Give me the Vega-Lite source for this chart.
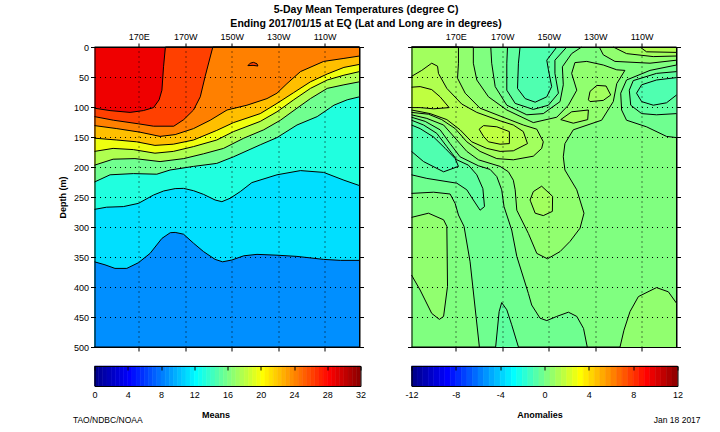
{"$schema":"https://vega.github.io/schema/vega-lite/v6.json","background":"white","padding":{"left":57.5,"top":4,"right":10,"bottom":5},"autosize":{"type":"pad"},
"title":{"text":["5-Day Mean Temperatures (degree C)","Ending 2017/01/15 at EQ (Lat and Long are in degrees)\u00a0\u00a0\u00a0\u00a0\u00a0"],"font":"Liberation Sans","fontSize":10.5,"fontWeight":"bold","lineHeight":14,"anchor":"middle","dx":-13.5,"color":"black","offset":3},
"config":{"view":{"stroke":null},"font":"Liberation Sans","axis":{"labelFont":"Liberation Sans","labelFontSize":9,"labelColor":"black","tickColor":"black","domainColor":"black","tickSize":4,"domainWidth":1,"tickWidth":1,"labelFlush":false,"labelOverlap":false,"titleFont":"Liberation Sans"}},
"columns":2,"spacing":{"row":19,"column":51},"bounds":"flush","resolve":{"scale":{"fill":"independent","stroke":"independent"}},
"datasets":{
"means":[
{"c":"m0","n":0,"lon":151,"depth":0,"t":28.5},{"c":"m0","n":1,"lon":265,"depth":0,"t":28.5},{"c":"m0","n":2,"lon":265,"depth":500,"t":28.5},{"c":"m0","n":3,"lon":151,"depth":500,"t":28.5},
{"c":"m1","n":0,"lon":151,"depth":102,"t":26},{"c":"m1","n":1,"lon":157.7,"depth":106,"t":26},{"c":"m1","n":2,"lon":166.3,"depth":109,"t":26},{"c":"m1","n":3,"lon":172,"depth":106,"t":26},{"c":"m1","n":4,"lon":176.4,"depth":101,"t":26},{"c":"m1","n":5,"lon":178.8,"depth":88,"t":26},{"c":"m1","n":6,"lon":180,"depth":72,"t":26},{"c":"m1","n":7,"lon":180.7,"depth":33,"t":26},{"c":"m1","n":8,"lon":181.5,"depth":0,"t":26},{"c":"m1","n":9,"lon":265,"depth":0,"t":26},{"c":"m1","n":10,"lon":265,"depth":500,"t":26},{"c":"m1","n":11,"lon":151,"depth":500,"t":26},
{"c":"m2","n":0,"lon":151,"depth":116,"t":24},{"c":"m2","n":1,"lon":159.1,"depth":122,"t":24},{"c":"m2","n":2,"lon":169.9,"depth":128,"t":24},{"c":"m2","n":3,"lon":176.4,"depth":132,"t":24},{"c":"m2","n":4,"lon":185.1,"depth":132,"t":24},{"c":"m2","n":5,"lon":189.4,"depth":121,"t":24},{"c":"m2","n":6,"lon":193.6,"depth":105,"t":24},{"c":"m2","n":7,"lon":196.5,"depth":83,"t":24},{"c":"m2","n":8,"lon":198.6,"depth":49,"t":24},{"c":"m2","n":9,"lon":201.9,"depth":0,"t":24},{"c":"m2","n":10,"lon":265,"depth":0,"t":24},{"c":"m2","n":11,"lon":265,"depth":500,"t":24},{"c":"m2","n":12,"lon":151,"depth":500,"t":24},
{"c":"m2b","n":0,"lon":217,"depth":31,"t":26},{"c":"m2b","n":1,"lon":218,"depth":27,"t":26},{"c":"m2b","n":2,"lon":219.4,"depth":25.6,"t":26},{"c":"m2b","n":3,"lon":220.9,"depth":28,"t":26},{"c":"m2b","n":4,"lon":221.3,"depth":31.7,"t":26},{"c":"m2b","n":5,"lon":219.2,"depth":30.6,"t":26},{"c":"m2b","n":6,"lon":217,"depth":31,"t":26},
{"c":"m3","n":0,"lon":151,"depth":131,"t":22},{"c":"m3","n":1,"lon":160.6,"depth":136,"t":22},{"c":"m3","n":2,"lon":170.6,"depth":142,"t":22},{"c":"m3","n":3,"lon":179.2,"depth":149,"t":22},{"c":"m3","n":4,"lon":185.7,"depth":146,"t":22},{"c":"m3","n":5,"lon":193.6,"depth":136,"t":22},{"c":"m3","n":6,"lon":200.8,"depth":122,"t":22},{"c":"m3","n":7,"lon":208,"depth":105,"t":22},{"c":"m3","n":8,"lon":216.6,"depth":97,"t":22},{"c":"m3","n":9,"lon":225.2,"depth":86,"t":22},{"c":"m3","n":10,"lon":229.5,"depth":77,"t":22},{"c":"m3","n":11,"lon":233.8,"depth":61,"t":22},{"c":"m3","n":12,"lon":239.6,"depth":41,"t":22},{"c":"m3","n":13,"lon":249.6,"depth":24,"t":22},{"c":"m3","n":14,"lon":258.3,"depth":19,"t":22},{"c":"m3","n":15,"lon":265,"depth":15,"t":22},{"c":"m3","n":16,"lon":265,"depth":500,"t":22},{"c":"m3","n":17,"lon":151,"depth":500,"t":22},
{"c":"m4","n":0,"lon":151,"depth":152,"t":19.5},{"c":"m4","n":1,"lon":160.6,"depth":155,"t":19.5},{"c":"m4","n":2,"lon":169.1,"depth":158,"t":19.5},{"c":"m4","n":3,"lon":177,"depth":164,"t":19.5},{"c":"m4","n":4,"lon":184.9,"depth":162,"t":19.5},{"c":"m4","n":5,"lon":193.6,"depth":155,"t":19.5},{"c":"m4","n":6,"lon":203.6,"depth":139,"t":19.5},{"c":"m4","n":7,"lon":210.8,"depth":126,"t":19.5},{"c":"m4","n":8,"lon":222.3,"depth":111,"t":19.5},{"c":"m4","n":9,"lon":229.5,"depth":94,"t":19.5},{"c":"m4","n":10,"lon":236.7,"depth":76,"t":19.5},{"c":"m4","n":11,"lon":243.9,"depth":58,"t":19.5},{"c":"m4","n":12,"lon":251.1,"depth":45,"t":19.5},{"c":"m4","n":13,"lon":258.3,"depth":34,"t":19.5},{"c":"m4","n":14,"lon":265,"depth":29,"t":19.5},{"c":"m4","n":15,"lon":265,"depth":500,"t":19.5},{"c":"m4","n":16,"lon":151,"depth":500,"t":19.5},
{"c":"m5","n":0,"lon":151,"depth":174,"t":17.5},{"c":"m5","n":1,"lon":159,"depth":169,"t":17.5},{"c":"m5","n":2,"lon":167.7,"depth":171,"t":17.5},{"c":"m5","n":3,"lon":177,"depth":177,"t":17.5},{"c":"m5","n":4,"lon":184.9,"depth":174,"t":17.5},{"c":"m5","n":5,"lon":193.6,"depth":166,"t":17.5},{"c":"m5","n":6,"lon":203.6,"depth":155,"t":17.5},{"c":"m5","n":7,"lon":210.8,"depth":141,"t":17.5},{"c":"m5","n":8,"lon":222.3,"depth":124,"t":17.5},{"c":"m5","n":9,"lon":229.5,"depth":108,"t":17.5},{"c":"m5","n":10,"lon":236.7,"depth":88,"t":17.5},{"c":"m5","n":11,"lon":243.9,"depth":69,"t":17.5},{"c":"m5","n":12,"lon":251.1,"depth":55,"t":17.5},{"c":"m5","n":13,"lon":258.3,"depth":47,"t":17.5},{"c":"m5","n":14,"lon":265,"depth":41,"t":17.5},{"c":"m5","n":15,"lon":265,"depth":500,"t":17.5},{"c":"m5","n":16,"lon":151,"depth":500,"t":17.5},
{"c":"m6","n":0,"lon":151,"depth":197,"t":15.5},{"c":"m6","n":1,"lon":159,"depth":187,"t":15.5},{"c":"m6","n":2,"lon":168.4,"depth":186,"t":15.5},{"c":"m6","n":3,"lon":179.2,"depth":191,"t":15.5},{"c":"m6","n":4,"lon":189.4,"depth":186,"t":15.5},{"c":"m6","n":5,"lon":197.9,"depth":178,"t":15.5},{"c":"m6","n":6,"lon":206.5,"depth":169,"t":15.5},{"c":"m6","n":7,"lon":215.2,"depth":152,"t":15.5},{"c":"m6","n":8,"lon":223.8,"depth":138,"t":15.5},{"c":"m6","n":9,"lon":231,"depth":122,"t":15.5},{"c":"m6","n":10,"lon":238.1,"depth":102,"t":15.5},{"c":"m6","n":11,"lon":243.9,"depth":86,"t":15.5},{"c":"m6","n":12,"lon":251.1,"depth":69,"t":15.5},{"c":"m6","n":13,"lon":258.3,"depth":63,"t":15.5},{"c":"m6","n":14,"lon":265,"depth":58,"t":15.5},{"c":"m6","n":15,"lon":265,"depth":500,"t":15.5},{"c":"m6","n":16,"lon":151,"depth":500,"t":15.5},
{"c":"m7","n":0,"lon":151,"depth":225,"t":13},{"c":"m7","n":1,"lon":157.7,"depth":213,"t":13},{"c":"m7","n":2,"lon":167.7,"depth":211,"t":13},{"c":"m7","n":3,"lon":177.8,"depth":212,"t":13},{"c":"m7","n":4,"lon":183.5,"depth":205,"t":13},{"c":"m7","n":5,"lon":193.6,"depth":199,"t":13},{"c":"m7","n":6,"lon":203.6,"depth":194,"t":13},{"c":"m7","n":7,"lon":210.8,"depth":183,"t":13},{"c":"m7","n":8,"lon":222.3,"depth":163,"t":13},{"c":"m7","n":9,"lon":229.5,"depth":151,"t":13},{"c":"m7","n":10,"lon":238.1,"depth":130,"t":13},{"c":"m7","n":11,"lon":246.8,"depth":116,"t":13},{"c":"m7","n":12,"lon":254,"depth":97,"t":13},{"c":"m7","n":13,"lon":259.7,"depth":88,"t":13},{"c":"m7","n":14,"lon":265,"depth":83,"t":13},{"c":"m7","n":15,"lon":265,"depth":500,"t":13},{"c":"m7","n":16,"lon":151,"depth":500,"t":13},
{"c":"m8","n":0,"lon":151,"depth":270.6,"t":11},{"c":"m8","n":1,"lon":156.2,"depth":267,"t":11},{"c":"m8","n":2,"lon":163.4,"depth":266,"t":11},{"c":"m8","n":3,"lon":169.9,"depth":260.6,"t":11},{"c":"m8","n":4,"lon":176.4,"depth":246.7,"t":11},{"c":"m8","n":5,"lon":180.7,"depth":240,"t":11},{"c":"m8","n":6,"lon":185.7,"depth":236,"t":11},{"c":"m8","n":7,"lon":189.3,"depth":235.6,"t":11},{"c":"m8","n":8,"lon":193.6,"depth":239.5,"t":11},{"c":"m8","n":9,"lon":197.9,"depth":245.6,"t":11},{"c":"m8","n":10,"lon":202.9,"depth":255,"t":11},{"c":"m8","n":11,"lon":205.8,"depth":257.8,"t":11},{"c":"m8","n":12,"lon":209.4,"depth":252,"t":11},{"c":"m8","n":13,"lon":213.7,"depth":241,"t":11},{"c":"m8","n":14,"lon":218.7,"depth":226,"t":11},{"c":"m8","n":15,"lon":229.5,"depth":213,"t":11},{"c":"m8","n":16,"lon":239.6,"depth":206,"t":11},{"c":"m8","n":17,"lon":249.6,"depth":209,"t":11},{"c":"m8","n":18,"lon":258.3,"depth":222,"t":11},{"c":"m8","n":19,"lon":265,"depth":231,"t":11},{"c":"m8","n":20,"lon":265,"depth":500,"t":11},{"c":"m8","n":21,"lon":151,"depth":500,"t":11},
{"c":"m9","n":0,"lon":151,"depth":358,"t":8.5},{"c":"m9","n":1,"lon":155.5,"depth":363,"t":8.5},{"c":"m9","n":2,"lon":159.8,"depth":369,"t":8.5},{"c":"m9","n":3,"lon":164.9,"depth":369,"t":8.5},{"c":"m9","n":4,"lon":169.9,"depth":359.5,"t":8.5},{"c":"m9","n":5,"lon":174.9,"depth":344,"t":8.5},{"c":"m9","n":6,"lon":180,"depth":319,"t":8.5},{"c":"m9","n":7,"lon":183.6,"depth":309.5,"t":8.5},{"c":"m9","n":8,"lon":185.7,"depth":309,"t":8.5},{"c":"m9","n":9,"lon":189.3,"depth":312,"t":8.5},{"c":"m9","n":10,"lon":193.6,"depth":327,"t":8.5},{"c":"m9","n":11,"lon":197.9,"depth":341,"t":8.5},{"c":"m9","n":12,"lon":202.9,"depth":354,"t":8.5},{"c":"m9","n":13,"lon":206.1,"depth":358,"t":8.5},{"c":"m9","n":14,"lon":210.1,"depth":355,"t":8.5},{"c":"m9","n":15,"lon":215.2,"depth":348,"t":8.5},{"c":"m9","n":16,"lon":220.9,"depth":345.6,"t":8.5},{"c":"m9","n":17,"lon":229.5,"depth":347,"t":8.5},{"c":"m9","n":18,"lon":238.1,"depth":349,"t":8.5},{"c":"m9","n":19,"lon":249.6,"depth":354,"t":8.5},{"c":"m9","n":20,"lon":256.8,"depth":355.6,"t":8.5},{"c":"m9","n":21,"lon":265,"depth":355.6,"t":8.5},{"c":"m9","n":22,"lon":265,"depth":500,"t":8.5},{"c":"m9","n":23,"lon":151,"depth":500,"t":8.5}
],
"anoms":[
{"c":"base","n":0,"lon":151,"depth":0,"a":0},{"c":"base","n":1,"lon":265,"depth":0,"a":0},{"c":"base","n":2,"lon":265,"depth":500,"a":0},{"c":"base","n":3,"lon":151,"depth":500,"a":0},
{"c":"K","n":0,"lon":151,"depth":0,"a":0.4},{"c":"K","n":1,"lon":177.6,"depth":0,"a":0.4},{"c":"K","n":2,"lon":177.6,"depth":27,"a":0.4},{"c":"K","n":3,"lon":179.1,"depth":55,"a":0.4},{"c":"K","n":4,"lon":184.1,"depth":83,"a":0.4},{"c":"K","n":5,"lon":192,"depth":105,"a":0.4},{"c":"K","n":6,"lon":203.4,"depth":126,"a":0.4},{"c":"K","n":7,"lon":213.5,"depth":117,"a":0.4},{"c":"K","n":8,"lon":218.5,"depth":97,"a":0.4},{"c":"K","n":9,"lon":222.1,"depth":72,"a":0.4},{"c":"K","n":10,"lon":219.9,"depth":44,"a":0.4},{"c":"K","n":11,"lon":221.3,"depth":26,"a":0.4},{"c":"K","n":12,"lon":226.4,"depth":24,"a":0.4},{"c":"K","n":13,"lon":233.5,"depth":30,"a":0.4},{"c":"K","n":14,"lon":239.3,"depth":38,"a":0.4},{"c":"K","n":15,"lon":242.8,"depth":39,"a":0.4},{"c":"K","n":16,"lon":239.3,"depth":61,"a":0.4},{"c":"K","n":17,"lon":237.8,"depth":91,"a":0.4},{"c":"K","n":18,"lon":232.8,"depth":122,"a":0.4},{"c":"K","n":19,"lon":220.6,"depth":138,"a":0.4},{"c":"K","n":20,"lon":217,"depth":161,"a":0.4},{"c":"K","n":21,"lon":216.3,"depth":183,"a":0.4},{"c":"K","n":22,"lon":217,"depth":205,"a":0.4},{"c":"K","n":23,"lon":222.1,"depth":238,"a":0.4},{"c":"K","n":24,"lon":225.2,"depth":277,"a":0.4},{"c":"K","n":25,"lon":223.5,"depth":302,"a":0.4},{"c":"K","n":26,"lon":219.2,"depth":324,"a":0.4},{"c":"K","n":27,"lon":214.9,"depth":341,"a":0.4},{"c":"K","n":28,"lon":209.5,"depth":353,"a":0.4},{"c":"K","n":29,"lon":204.9,"depth":344,"a":0.4},{"c":"K","n":30,"lon":201.3,"depth":311,"a":0.4},{"c":"K","n":31,"lon":196.3,"depth":272,"a":0.4},{"c":"K","n":32,"lon":195.6,"depth":238,"a":0.4},{"c":"K","n":33,"lon":194.8,"depth":222,"a":0.4},{"c":"K","n":34,"lon":192.7,"depth":208,"a":0.4},{"c":"K","n":35,"lon":189.1,"depth":199,"a":0.4},{"c":"K","n":36,"lon":179.8,"depth":188,"a":0.4},{"c":"K","n":37,"lon":174.8,"depth":174,"a":0.4},{"c":"K","n":38,"lon":170.5,"depth":155,"a":0.4},{"c":"K","n":39,"lon":164.8,"depth":130,"a":0.4},{"c":"K","n":40,"lon":157.6,"depth":119,"a":0.4},{"c":"K","n":41,"lon":151,"depth":113,"a":0.4},
{"c":"T5","n":0,"lon":151,"depth":0,"a":0.8},{"c":"T5","n":1,"lon":171.2,"depth":0,"a":0.8},{"c":"T5","n":2,"lon":171.2,"depth":27,"a":0.8},{"c":"T5","n":3,"lon":170.8,"depth":52,"a":0.8},{"c":"T5","n":4,"lon":174.1,"depth":77,"a":0.8},{"c":"T5","n":5,"lon":180.5,"depth":102,"a":0.8},{"c":"T5","n":6,"lon":189.1,"depth":115,"a":0.8},{"c":"T5","n":7,"lon":199.1,"depth":130,"a":0.8},{"c":"T5","n":8,"lon":204.9,"depth":137,"a":0.8},{"c":"T5","n":9,"lon":207.7,"depth":158,"a":0.8},{"c":"T5","n":10,"lon":207,"depth":169,"a":0.8},{"c":"T5","n":11,"lon":203.4,"depth":182,"a":0.8},{"c":"T5","n":12,"lon":194.8,"depth":188,"a":0.8},{"c":"T5","n":13,"lon":187.7,"depth":186,"a":0.8},{"c":"T5","n":14,"lon":180.5,"depth":174,"a":0.8},{"c":"T5","n":15,"lon":174.8,"depth":158,"a":0.8},{"c":"T5","n":16,"lon":169.8,"depth":136,"a":0.8},{"c":"T5","n":17,"lon":164,"depth":121,"a":0.8},{"c":"T5","n":18,"lon":158.3,"depth":112,"a":0.8},{"c":"T5","n":19,"lon":151,"depth":109,"a":0.8},
{"c":"A","n":0,"lon":151,"depth":49,"a":1.15},{"c":"A","n":1,"lon":155.4,"depth":39,"a":1.15},{"c":"A","n":2,"lon":159.7,"depth":27,"a":1.15},{"c":"A","n":3,"lon":162.2,"depth":32,"a":1.15},{"c":"A","n":4,"lon":162.6,"depth":44,"a":1.15},{"c":"A","n":5,"lon":166.2,"depth":69,"a":1.15},{"c":"A","n":6,"lon":172.6,"depth":95,"a":1.15},{"c":"A","n":7,"lon":179.1,"depth":109,"a":1.15},{"c":"A","n":8,"lon":189.1,"depth":123,"a":1.15},{"c":"A","n":9,"lon":194.8,"depth":130,"a":1.15},{"c":"A","n":10,"lon":199.1,"depth":141,"a":1.15},{"c":"A","n":11,"lon":200.9,"depth":161,"a":1.15},{"c":"A","n":12,"lon":194.8,"depth":173,"a":1.15},{"c":"A","n":13,"lon":189.1,"depth":174,"a":1.15},{"c":"A","n":14,"lon":183.4,"depth":169,"a":1.15},{"c":"A","n":15,"lon":176.9,"depth":158,"a":1.15},{"c":"A","n":16,"lon":171.9,"depth":138,"a":1.15},{"c":"A","n":17,"lon":166.2,"depth":121,"a":1.15},{"c":"A","n":18,"lon":159,"depth":111,"a":1.15},{"c":"A","n":19,"lon":151,"depth":105,"a":1.15},
{"c":"C1","n":0,"lon":151,"depth":67,"a":1.5},{"c":"C1","n":1,"lon":154.7,"depth":66,"a":1.5},{"c":"C1","n":2,"lon":159.7,"depth":71,"a":1.5},{"c":"C1","n":3,"lon":163.3,"depth":83,"a":1.5},{"c":"C1","n":4,"lon":167.2,"depth":101,"a":1.5},{"c":"C1","n":5,"lon":160.5,"depth":103,"a":1.5},{"c":"C1","n":6,"lon":154.7,"depth":101,"a":1.5},{"c":"C1","n":7,"lon":151,"depth":101,"a":1.5},
{"c":"C2","n":0,"lon":180.1,"depth":137,"a":1.5},{"c":"C2","n":1,"lon":182,"depth":131,"a":1.5},{"c":"C2","n":2,"lon":187.7,"depth":133,"a":1.5},{"c":"C2","n":3,"lon":193.1,"depth":141,"a":1.5},{"c":"C2","n":4,"lon":193.1,"depth":161,"a":1.5},{"c":"C2","n":5,"lon":189.1,"depth":162,"a":1.5},{"c":"C2","n":6,"lon":184.1,"depth":158,"a":1.5},{"c":"C2","n":7,"lon":182,"depth":149,"a":1.5},{"c":"C2","n":8,"lon":180.1,"depth":137,"a":1.5},
{"c":"L130","n":0,"lon":227.1,"depth":88,"a":0.8},{"c":"L130","n":1,"lon":227.8,"depth":74,"a":0.8},{"c":"L130","n":2,"lon":230.7,"depth":64,"a":0.8},{"c":"L130","n":3,"lon":234.7,"depth":65,"a":0.8},{"c":"L130","n":4,"lon":236.7,"depth":80,"a":0.8},{"c":"L130","n":5,"lon":233.5,"depth":89,"a":0.8},{"c":"L130","n":6,"lon":227.8,"depth":91,"a":0.8},{"c":"L130","n":7,"lon":227.1,"depth":88,"a":0.8},
{"c":"L2","n":0,"lon":215.2,"depth":121,"a":0.8},{"c":"L2","n":1,"lon":219.9,"depth":108,"a":0.8},{"c":"L2","n":2,"lon":227.1,"depth":105,"a":0.8},{"c":"L2","n":3,"lon":226.8,"depth":121,"a":0.8},{"c":"L2","n":4,"lon":220.6,"depth":127,"a":0.8},{"c":"L2","n":5,"lon":215.2,"depth":121,"a":0.8},
{"c":"L150","n":0,"lon":202,"depth":255,"a":0.8},{"c":"L150","n":1,"lon":203.4,"depth":241,"a":0.8},{"c":"L150","n":2,"lon":207,"depth":232,"a":0.8},{"c":"L150","n":3,"lon":211.7,"depth":249,"a":0.8},{"c":"L150","n":4,"lon":211.6,"depth":274,"a":0.8},{"c":"L150","n":5,"lon":207.7,"depth":281,"a":0.8},{"c":"L150","n":6,"lon":204.2,"depth":277,"a":0.8},{"c":"L150","n":7,"lon":202.3,"depth":258,"a":0.8},{"c":"L150","n":8,"lon":202,"depth":255,"a":0.8},
{"c":"T3","n":0,"lon":185.1,"depth":0,"a":-0.38},{"c":"T3","n":1,"lon":185.5,"depth":27,"a":-0.38},{"c":"T3","n":2,"lon":187,"depth":66,"a":-0.38},{"c":"T3","n":3,"lon":192,"depth":97,"a":-0.38},{"c":"T3","n":4,"lon":200.6,"depth":113,"a":-0.38},{"c":"T3","n":5,"lon":207.7,"depth":111,"a":-0.38},{"c":"T3","n":6,"lon":214.9,"depth":91,"a":-0.38},{"c":"T3","n":7,"lon":216.3,"depth":63,"a":-0.38},{"c":"T3","n":8,"lon":215.9,"depth":33,"a":-0.38},{"c":"T3","n":9,"lon":219.9,"depth":11,"a":-0.38},{"c":"T3","n":10,"lon":224.2,"depth":0,"a":-0.38},
{"c":"T2","n":0,"lon":192.3,"depth":0,"a":-0.76},{"c":"T2","n":1,"lon":192,"depth":27,"a":-0.76},{"c":"T2","n":2,"lon":192,"depth":72,"a":-0.76},{"c":"T2","n":3,"lon":195.6,"depth":94,"a":-0.76},{"c":"T2","n":4,"lon":203.4,"depth":104,"a":-0.76},{"c":"T2","n":5,"lon":209.9,"depth":97,"a":-0.76},{"c":"T2","n":6,"lon":214.2,"depth":77,"a":-0.76},{"c":"T2","n":7,"lon":212.7,"depth":44,"a":-0.76},{"c":"T2","n":8,"lon":212.7,"depth":22,"a":-0.76},{"c":"T2","n":9,"lon":217.8,"depth":0,"a":-0.76},
{"c":"T1","n":0,"lon":197.7,"depth":0,"a":-1.14},{"c":"T1","n":1,"lon":197,"depth":27,"a":-1.14},{"c":"T1","n":2,"lon":196.6,"depth":69,"a":-1.14},{"c":"T1","n":3,"lon":199.9,"depth":86,"a":-1.14},{"c":"T1","n":4,"lon":204.2,"depth":92,"a":-1.14},{"c":"T1","n":5,"lon":209.2,"depth":83,"a":-1.14},{"c":"T1","n":6,"lon":211.3,"depth":66,"a":-1.14},{"c":"T1","n":7,"lon":209.9,"depth":38,"a":-1.14},{"c":"T1","n":8,"lon":209.2,"depth":22,"a":-1.14},{"c":"T1","n":9,"lon":213.5,"depth":0,"a":-1.14},
{"c":"TR1","n":0,"lon":231.8,"depth":0,"a":0.4},{"c":"TR1","n":1,"lon":233.5,"depth":13,"a":0.4},{"c":"TR1","n":2,"lon":238.5,"depth":24,"a":0.4},{"c":"TR1","n":3,"lon":253.6,"depth":27,"a":0.4},{"c":"TR1","n":4,"lon":265,"depth":22,"a":0.4},{"c":"TR1","n":5,"lon":265,"depth":0,"a":0.4},
{"c":"TR2","n":0,"lon":237.8,"depth":0,"a":0.8},{"c":"TR2","n":1,"lon":243.5,"depth":11,"a":0.8},{"c":"TR2","n":2,"lon":255,"depth":16,"a":0.8},{"c":"TR2","n":3,"lon":265,"depth":15,"a":0.8},{"c":"TR2","n":4,"lon":265,"depth":0,"a":0.8},
{"c":"TR3","n":0,"lon":249.3,"depth":0,"a":1.15},{"c":"TR3","n":1,"lon":252.1,"depth":8,"a":1.15},{"c":"TR3","n":2,"lon":265,"depth":9,"a":1.15},{"c":"TR3","n":3,"lon":265,"depth":0,"a":1.15},
{"c":"U1","n":0,"lon":265,"depth":30,"a":-0.38},{"c":"U1","n":1,"lon":253.6,"depth":39,"a":-0.38},{"c":"U1","n":2,"lon":243.5,"depth":55,"a":-0.38},{"c":"U1","n":3,"lon":241,"depth":77,"a":-0.38},{"c":"U1","n":4,"lon":241.4,"depth":105,"a":-0.38},{"c":"U1","n":5,"lon":243.5,"depth":122,"a":-0.38},{"c":"U1","n":6,"lon":252.1,"depth":133,"a":-0.38},{"c":"U1","n":7,"lon":260.7,"depth":149,"a":-0.38},{"c":"U1","n":8,"lon":265,"depth":151,"a":-0.38},
{"c":"U2","n":0,"lon":265,"depth":41,"a":-0.76},{"c":"U2","n":1,"lon":256.4,"depth":44,"a":-0.76},{"c":"U2","n":2,"lon":246.4,"depth":56,"a":-0.76},{"c":"U2","n":3,"lon":244.7,"depth":72,"a":-0.76},{"c":"U2","n":4,"lon":245.3,"depth":97,"a":-0.76},{"c":"U2","n":5,"lon":250,"depth":111,"a":-0.76},{"c":"U2","n":6,"lon":256.4,"depth":113,"a":-0.76},{"c":"U2","n":7,"lon":265,"depth":111,"a":-0.76},
{"c":"U3","n":0,"lon":265,"depth":51,"a":-1.14},{"c":"U3","n":1,"lon":256.4,"depth":55,"a":-1.14},{"c":"U3","n":2,"lon":250,"depth":63,"a":-1.14},{"c":"U3","n":3,"lon":247.8,"depth":77,"a":-1.14},{"c":"U3","n":4,"lon":250,"depth":91,"a":-1.14},{"c":"U3","n":5,"lon":255,"depth":97,"a":-1.14},{"c":"U3","n":6,"lon":260.7,"depth":93,"a":-1.14},{"c":"U3","n":7,"lon":265,"depth":80,"a":-1.14},
{"c":"V","n":0,"lon":151,"depth":117,"a":-0.38},{"c":"V","n":1,"lon":156.9,"depth":124,"a":-0.38},{"c":"V","n":2,"lon":163.3,"depth":138,"a":-0.38},{"c":"V","n":3,"lon":167.6,"depth":161,"a":-0.38},{"c":"V","n":4,"lon":171.9,"depth":183,"a":-0.38},{"c":"V","n":5,"lon":179.8,"depth":198,"a":-0.38},{"c":"V","n":6,"lon":184.8,"depth":204,"a":-0.38},{"c":"V","n":7,"lon":187.7,"depth":216,"a":-0.38},{"c":"V","n":8,"lon":189.8,"depth":238,"a":-0.38},{"c":"V","n":9,"lon":190.8,"depth":266,"a":-0.38},{"c":"V","n":10,"lon":194.1,"depth":305,"a":-0.38},{"c":"V","n":11,"lon":196.3,"depth":349,"a":-0.38},{"c":"V","n":12,"lon":201.3,"depth":411,"a":-0.38},{"c":"V","n":13,"lon":202.7,"depth":430,"a":-0.38},{"c":"V","n":14,"lon":206.3,"depth":452,"a":-0.38},{"c":"V","n":15,"lon":209.2,"depth":456,"a":-0.38},{"c":"V","n":16,"lon":213.5,"depth":449,"a":-0.38},{"c":"V","n":17,"lon":218.5,"depth":442,"a":-0.38},{"c":"V","n":18,"lon":222.1,"depth":449,"a":-0.38},{"c":"V","n":19,"lon":225,"depth":469,"a":-0.38},{"c":"V","n":20,"lon":226.6,"depth":500,"a":-0.38},{"c":"V","n":21,"lon":180.2,"depth":500,"a":-0.38},{"c":"V","n":22,"lon":176.2,"depth":358,"a":-0.38},{"c":"V","n":23,"lon":173.6,"depth":299,"a":-0.38},{"c":"V","n":24,"lon":171.2,"depth":280,"a":-0.38},{"c":"V","n":25,"lon":169.8,"depth":261,"a":-0.38},{"c":"V","n":26,"lon":167.6,"depth":245,"a":-0.38},{"c":"V","n":27,"lon":160.5,"depth":242,"a":-0.38},{"c":"V","n":28,"lon":151,"depth":244,"a":-0.38},
{"c":"ii","n":0,"lon":151,"depth":122,"a":-0.76},{"c":"ii","n":1,"lon":156.2,"depth":130,"a":-0.76},{"c":"ii","n":2,"lon":161.9,"depth":144,"a":-0.76},{"c":"ii","n":3,"lon":166.2,"depth":166,"a":-0.76},{"c":"ii","n":4,"lon":170.5,"depth":188,"a":-0.76},{"c":"ii","n":5,"lon":175.5,"depth":197,"a":-0.76},{"c":"ii","n":6,"lon":179.1,"depth":213,"a":-0.76},{"c":"ii","n":7,"lon":181.7,"depth":236,"a":-0.76},{"c":"ii","n":8,"lon":182.4,"depth":266,"a":-0.76},{"c":"ii","n":9,"lon":180.5,"depth":272,"a":-0.76},{"c":"ii","n":10,"lon":177.6,"depth":255,"a":-0.76},{"c":"ii","n":11,"lon":174.8,"depth":238,"a":-0.76},{"c":"ii","n":12,"lon":170.5,"depth":227,"a":-0.76},{"c":"ii","n":13,"lon":157.6,"depth":219,"a":-0.76},{"c":"ii","n":14,"lon":151,"depth":213,"a":-0.76},
{"c":"in","n":0,"lon":151,"depth":130,"a":-1.14},{"c":"in","n":1,"lon":154.7,"depth":136,"a":-1.14},{"c":"in","n":2,"lon":160.5,"depth":150,"a":-1.14},{"c":"in","n":3,"lon":165.5,"depth":169,"a":-1.14},{"c":"in","n":4,"lon":169.8,"depth":186,"a":-1.14},{"c":"in","n":5,"lon":171.2,"depth":199,"a":-1.14},{"c":"in","n":6,"lon":164.8,"depth":208,"a":-1.14},{"c":"in","n":7,"lon":156.2,"depth":191,"a":-1.14},{"c":"in","n":8,"lon":151,"depth":174,"a":-1.14},
{"c":"bc","n":0,"lon":187.2,"depth":500,"a":-0.76},{"c":"bc","n":1,"lon":188.7,"depth":441,"a":-0.76},{"c":"bc","n":2,"lon":189.8,"depth":426,"a":-0.76},{"c":"bc","n":3,"lon":192,"depth":438,"a":-0.76},{"c":"bc","n":4,"lon":194.1,"depth":463,"a":-0.76},{"c":"bc","n":5,"lon":197,"depth":500,"a":-0.76},
{"c":"LL","n":0,"lon":151,"depth":284,"a":0.4},{"c":"LL","n":1,"lon":158.3,"depth":277,"a":0.4},{"c":"LL","n":2,"lon":164.8,"depth":288,"a":0.4},{"c":"LL","n":3,"lon":166.2,"depth":299,"a":0.4},{"c":"LL","n":4,"lon":166.5,"depth":399,"a":0.4},{"c":"LL","n":5,"lon":164.8,"depth":449,"a":0.4},{"c":"LL","n":6,"lon":163,"depth":454,"a":0.4},{"c":"LL","n":7,"lon":159.7,"depth":444,"a":0.4},{"c":"LL","n":8,"lon":154.7,"depth":405,"a":0.4},{"c":"LL","n":9,"lon":151,"depth":380,"a":0.4},
{"c":"RL","n":0,"lon":240.7,"depth":500,"a":0.4},{"c":"RL","n":1,"lon":242.4,"depth":472,"a":0.4},{"c":"RL","n":2,"lon":245,"depth":441,"a":0.4},{"c":"RL","n":3,"lon":248.6,"depth":416,"a":0.4},{"c":"RL","n":4,"lon":256.4,"depth":401,"a":0.4},{"c":"RL","n":5,"lon":261.5,"depth":408,"a":0.4},{"c":"RL","n":6,"lon":265,"depth":427,"a":0.4},{"c":"RL","n":7,"lon":265,"depth":500,"a":0.4}
],
"barM":[{"lo":0,"hi":0.5},{"lo":0.5,"hi":1},{"lo":1,"hi":1.5},{"lo":1.5,"hi":2},{"lo":2,"hi":2.5},{"lo":2.5,"hi":3},{"lo":3,"hi":3.5},{"lo":3.5,"hi":4},{"lo":4,"hi":4.5},{"lo":4.5,"hi":5},{"lo":5,"hi":5.5},{"lo":5.5,"hi":6},{"lo":6,"hi":6.5},{"lo":6.5,"hi":7},{"lo":7,"hi":7.5},{"lo":7.5,"hi":8},{"lo":8,"hi":8.5},{"lo":8.5,"hi":9},{"lo":9,"hi":9.5},{"lo":9.5,"hi":10},{"lo":10,"hi":10.5},{"lo":10.5,"hi":11},{"lo":11,"hi":11.5},{"lo":11.5,"hi":12},{"lo":12,"hi":12.5},{"lo":12.5,"hi":13},{"lo":13,"hi":13.5},{"lo":13.5,"hi":14},{"lo":14,"hi":14.5},{"lo":14.5,"hi":15},{"lo":15,"hi":15.5},{"lo":15.5,"hi":16},{"lo":16,"hi":16.5},{"lo":16.5,"hi":17},{"lo":17,"hi":17.5},{"lo":17.5,"hi":18},{"lo":18,"hi":18.5},{"lo":18.5,"hi":19},{"lo":19,"hi":19.5},{"lo":19.5,"hi":20},{"lo":20,"hi":20.5},{"lo":20.5,"hi":21},{"lo":21,"hi":21.5},{"lo":21.5,"hi":22},{"lo":22,"hi":22.5},{"lo":22.5,"hi":23},{"lo":23,"hi":23.5},{"lo":23.5,"hi":24},{"lo":24,"hi":24.5},{"lo":24.5,"hi":25},{"lo":25,"hi":25.5},{"lo":25.5,"hi":26},{"lo":26,"hi":26.5},{"lo":26.5,"hi":27},{"lo":27,"hi":27.5},{"lo":27.5,"hi":28},{"lo":28,"hi":28.5},{"lo":28.5,"hi":29},{"lo":29,"hi":29.5},{"lo":29.5,"hi":30},{"lo":30,"hi":30.5},{"lo":30.5,"hi":31},{"lo":31,"hi":31.5},{"lo":31.5,"hi":32}],
"barA":[{"lo":-12,"hi":-11.5},{"lo":-11.5,"hi":-11},{"lo":-11,"hi":-10.5},{"lo":-10.5,"hi":-10},{"lo":-10,"hi":-9.5},{"lo":-9.5,"hi":-9},{"lo":-9,"hi":-8.5},{"lo":-8.5,"hi":-8},{"lo":-8,"hi":-7.5},{"lo":-7.5,"hi":-7},{"lo":-7,"hi":-6.5},{"lo":-6.5,"hi":-6},{"lo":-6,"hi":-5.5},{"lo":-5.5,"hi":-5},{"lo":-5,"hi":-4.5},{"lo":-4.5,"hi":-4},{"lo":-4,"hi":-3.5},{"lo":-3.5,"hi":-3},{"lo":-3,"hi":-2.5},{"lo":-2.5,"hi":-2},{"lo":-2,"hi":-1.5},{"lo":-1.5,"hi":-1},{"lo":-1,"hi":-0.5},{"lo":-0.5,"hi":0},{"lo":0,"hi":0.5},{"lo":0.5,"hi":1},{"lo":1,"hi":1.5},{"lo":1.5,"hi":2},{"lo":2,"hi":2.5},{"lo":2.5,"hi":3},{"lo":3,"hi":3.5},{"lo":3.5,"hi":4},{"lo":4,"hi":4.5},{"lo":4.5,"hi":5},{"lo":5,"hi":5.5},{"lo":5.5,"hi":6},{"lo":6,"hi":6.5},{"lo":6.5,"hi":7},{"lo":7,"hi":7.5},{"lo":7.5,"hi":8},{"lo":8,"hi":8.5},{"lo":8.5,"hi":9},{"lo":9,"hi":9.5},{"lo":9.5,"hi":10},{"lo":10,"hi":10.5},{"lo":10.5,"hi":11},{"lo":11,"hi":11.5},{"lo":11.5,"hi":12}]
},
"concat":[
{"width":265,"height":300,"resolve":{"axis":{"x":"independent","y":"independent"}},"layer":[
{"data":{"name":"means"},"mark":{"type":"line","stroke":"black","strokeWidth":1,"strokeJoin":"round"},"encoding":{
"x":{"field":"lon","type":"quantitative","title":null,"scale":{"domain":[151,265],"nice":false,"zero":false},"axis":{"orient":"bottom","values":[170,190,210,230,250],"labels":false,"grid":true,"gridColor":"black","gridDash":[1,4],"gridOpacity":1,"zindex":1}},
"y":{"field":"depth","type":"quantitative","title":"Depth (m)","scale":{"domain":[0,500],"reverse":true,"nice":false,"zero":false},"axis":{"orient":"left","values":[0,50,100,150,200,250,300,350,400,450,500],"grid":true,"gridColor":"black","gridDash":[1,4],"gridOpacity":1,"zindex":1,"titleFontSize":9,"titleFontWeight":"bold","titleColor":"black","titlePadding":6}},
"fill":{"field":"t","type":"quantitative","legend":null,"scale":{"domain":[0,4,12,20,28,32],"range":["#00008f","#0000ff","#00ffff","#ffff00","#ff0000","#800000"],"interpolate":"rgb"}},
"detail":{"field":"c"},"order":{"field":"n","type":"quantitative"}}},
{"data":{"values":[{"lon":151,"depth":0}]},"mark":{"type":"line","opacity":0},"encoding":{
"x":{"field":"lon","type":"quantitative","title":null,"axis":{"orient":"top","values":[170,190,210,230,250],"labelExpr":"datum.value<180?datum.value+'E':(360-datum.value)+'W'","grid":false,"zindex":1}},
"y":{"field":"depth","type":"quantitative","title":null,"axis":{"orient":"right","values":[0,50,100,150,200,250,300,350,400,450,500],"labels":false,"grid":false,"zindex":1}}}}
]},
{"width":265,"height":300,"resolve":{"axis":{"x":"independent","y":"independent"}},"layer":[
{"data":{"name":"anoms"},"mark":{"type":"line","stroke":"black","strokeWidth":1,"strokeJoin":"round"},"encoding":{
"x":{"field":"lon","type":"quantitative","title":null,"scale":{"domain":[151,265],"nice":false,"zero":false},"axis":{"orient":"bottom","values":[170,190,210,230,250],"labels":false,"grid":true,"gridColor":"black","gridDash":[1,4],"gridOpacity":1,"zindex":1}},
"y":{"field":"depth","type":"quantitative","title":null,"scale":{"domain":[0,500],"reverse":true,"nice":false,"zero":false},"axis":{"orient":"left","values":[0,50,100,150,200,250,300,350,400,450,500],"labels":false,"grid":true,"gridColor":"black","gridDash":[1,4],"gridOpacity":1,"zindex":1}},
"fill":{"field":"a","type":"quantitative","legend":null,"scale":{"domain":[-12,-9,-3,3,9,12],"range":["#00008f","#0000ff","#00ffff","#ffff00","#ff0000","#800000"],"interpolate":"rgb"}},
"detail":{"field":"c"},"order":{"field":"n","type":"quantitative"}}},
{"data":{"values":[{"lon":151,"depth":0}]},"mark":{"type":"line","opacity":0},"encoding":{
"x":{"field":"lon","type":"quantitative","title":null,"axis":{"orient":"top","values":[170,190,210,230,250],"labelExpr":"datum.value<180?datum.value+'E':(360-datum.value)+'W'","grid":false,"zindex":1}},
"y":{"field":"depth","type":"quantitative","title":null,"axis":{"orient":"right","values":[0,50,100,150,200,250,300,350,400,450,500],"labels":false,"grid":false,"zindex":1}}}}
]},
{"width":266,"height":20,"resolve":{"axis":{"x":"independent","y":"independent"}},"layer":[
{"data":{"name":"barM"},"mark":{"type":"rect","strokeWidth":0.6},"encoding":{
"x":{"field":"lo","type":"quantitative","scale":{"domain":[0,32],"nice":false,"zero":false},"title":"Means","axis":{"orient":"bottom","values":[0,4,8,12,16,20,24,28,32],"grid":false,"tickSize":0,"labelPadding":4,"titleFontSize":9,"titleFontWeight":"bold","titleColor":"black","titleX":121,"titleY":28,"titleBaseline":"middle","zindex":1}},
"x2":{"field":"hi"},
"fill":{"field":"lo","type":"quantitative","legend":null,"scale":{"domain":[0,4,12,20,28,32],"range":["#00008f","#0000ff","#00ffff","#ffff00","#ff0000","#800000"],"interpolate":"rgb"}},
"stroke":{"field":"lo","type":"quantitative","legend":null,"scale":{"domain":[0,4,12,20,28,32],"range":["#00008f","#0000ff","#00ffff","#ffff00","#ff0000","#800000"],"interpolate":"rgb"}}}},
{"data":{"values":[{"label":"TAO/NDBC/NOAA","x":-2.6,"y":-1.7}]},"mark":{"type":"text","align":"left","baseline":"middle","fontSize":8.5,"color":"black"},"encoding":{
"x":{"field":"x","type":"quantitative","title":null,"axis":{"orient":"top","values":[0,4,8,12,16,20,24,28,32],"grid":false,"labels":false,"tickSize":-4,"zindex":1}},
"y":{"field":"y","type":"quantitative","title":null,"scale":{"domain":[0,1],"nice":false,"zero":false},"axis":{"orient":"left","ticks":false,"labels":false,"grid":false,"zindex":1}},
"text":{"field":"label"}}},
{"data":{"values":[{"y":0}]},"mark":{"type":"line","opacity":0},"encoding":{"y":{"field":"y","type":"quantitative","title":null,"axis":{"orient":"right","ticks":false,"labels":false,"grid":false,"zindex":1}}}}
]},
{"width":266,"height":20,"resolve":{"axis":{"x":"independent","y":"independent"}},"layer":[
{"data":{"name":"barA"},"mark":{"type":"rect","strokeWidth":0.6},"encoding":{
"x":{"field":"lo","type":"quantitative","scale":{"domain":[-12,12],"nice":false,"zero":false},"title":"Anomalies","axis":{"orient":"bottom","values":[-12,-8,-4,0,4,8,12],"grid":false,"labelExpr":"toString(datum.value)","tickSize":0,"labelPadding":4,"titleFontSize":9,"titleFontWeight":"bold","titleColor":"black","titleX":128,"titleY":28,"titleBaseline":"middle","zindex":1}},
"x2":{"field":"hi"},
"fill":{"field":"lo","type":"quantitative","legend":null,"scale":{"domain":[-12,-9,-3,3,9,12],"range":["#00008f","#0000ff","#00ffff","#ffff00","#ff0000","#800000"],"interpolate":"rgb"}},
"stroke":{"field":"lo","type":"quantitative","legend":null,"scale":{"domain":[-12,-9,-3,3,9,12],"range":["#00008f","#0000ff","#00ffff","#ffff00","#ff0000","#800000"],"interpolate":"rgb"}}}},
{"data":{"values":[{"label":"Jan 18 2017","x":9.86,"y":-1.7}]},"mark":{"type":"text","align":"left","baseline":"middle","fontSize":8.5,"color":"black"},"encoding":{
"x":{"field":"x","type":"quantitative","title":null,"axis":{"orient":"top","values":[-12,-8,-4,0,4,8,12],"grid":false,"labels":false,"tickSize":-4,"zindex":1}},
"y":{"field":"y","type":"quantitative","title":null,"scale":{"domain":[0,1],"nice":false,"zero":false},"axis":{"orient":"left","ticks":false,"labels":false,"grid":false,"zindex":1}},
"text":{"field":"label"}}},
{"data":{"values":[{"y":0}]},"mark":{"type":"line","opacity":0},"encoding":{"y":{"field":"y","type":"quantitative","title":null,"axis":{"orient":"right","ticks":false,"labels":false,"grid":false,"zindex":1}}}}
]}
]}
